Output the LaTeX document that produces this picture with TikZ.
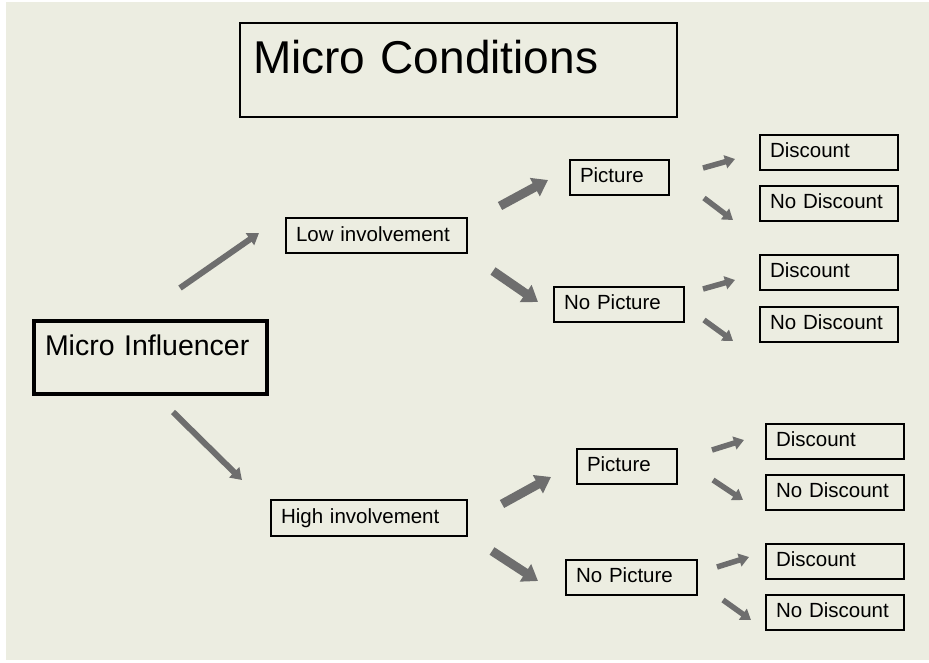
\documentclass[tikz,border=0pt]{standalone}
\usepackage{fontspec}
\setmainfont{Liberation Sans}
\usetikzlibrary{arrows.meta}
\definecolor{paper}{HTML}{ECEDE1}
\definecolor{arrowgray}{HTML}{6E6E6E}
\tikzset{
  box/.style={draw, line width=2pt, anchor=north west, inner xsep=10pt, inner ysep=0pt,
    text height=22pt, text depth=13pt, align=left, font=\fontsize{20.5}{24}\selectfont},
  bigarrow/.style={arrowgray, line width=9pt, -{Triangle[length=15pt,width=20pt]}},
  midarrow/.style={arrowgray, line width=6pt, -{Triangle[length=11pt,width=14pt]}},
  smallarrow/.style={arrowgray, line width=5.5pt, -{Triangle[length=10pt,width=13pt]}},
}
\begin{document}
\begin{tikzpicture}[x=1pt, y=-1pt]
    \useasboundingbox (0,0) rectangle (929,662);
    \fill[paper] (6,2) rectangle (929,660);
    % titles
    \node[box, inner xsep=13pt, text width=411pt, text height=50pt, text depth=44pt,
        font=\fontsize{46}{50}\selectfont] (title) at (239,22) {Micro Conditions};
    \node[box, line width=4pt, inner xsep=11pt, text width=211pt, text height=34pt, text depth=39pt,
        font=\fontsize{28.5}{32}\selectfont] (infl) at (32,319) {Micro Influencer};
    % involvement
    \node[box, text width=161pt, text height=23pt, text depth=12pt] (low) at (285,217) {Low involvement};
    \node[box, text width=176pt, text height=23pt] (high) at (270,499) {High involvement};
    % pictures
    \node[box, text width=79pt] (picA) at (569,159) {Picture};
    \node[box, text width=110pt] (nopicA) at (553,286) {No Picture};
    \node[box, text width=80pt] (picB) at (576,448) {Picture};
    \node[box, text width=111pt] (nopicB) at (565,559) {No Picture};
    % discounts
    \node[box, text width=118pt] (discA) at (759,134) {Discount};
    \node[box, text width=118pt] (nodiscA) at (759,185) {No Discount};
    \node[box, text width=118pt] (discB) at (759,254) {Discount};
    \node[box, text width=118pt] (nodiscB) at (759,306) {No Discount};
    \node[box, text width=118pt] (discC) at (765,423) {Discount};
    \node[box, text width=118pt] (nodiscC) at (765,474) {No Discount};
    \node[box, text width=118pt] (discD) at (765,543) {Discount};
    \node[box, text width=118pt] (nodiscD) at (765,594) {No Discount};
    % arrow ends
    \coordinate (infl-low-s) at (180,288);  \coordinate (infl-low-e) at (259,233);
    \coordinate (infl-high-s) at (173,412); \coordinate (infl-high-e) at (242,480);
    \coordinate (low-pic-s) at (500,206);   \coordinate (low-pic-e) at (548,180);
    \coordinate (low-nopic-s) at (493,271); \coordinate (low-nopic-e) at (538,302);
    \coordinate (high-pic-s) at (502,504);  \coordinate (high-pic-e) at (551,477);
    \coordinate (high-nopic-s) at (492,551); \coordinate (high-nopic-e) at (538,581);
    \coordinate (picA-d-s) at (703,168);    \coordinate (picA-d-e) at (735,159);
    \coordinate (picA-n-s) at (704,198);    \coordinate (picA-n-e) at (733,220);
    \coordinate (nopicA-d-s) at (703,289);  \coordinate (nopicA-d-e) at (735,280);
    \coordinate (nopicA-n-s) at (704,320);  \coordinate (nopicA-n-e) at (733,341);
    \coordinate (picB-d-s) at (712,450);    \coordinate (picB-d-e) at (744,440);
    \coordinate (picB-n-s) at (713,480);    \coordinate (picB-n-e) at (743,500);
    \coordinate (nopicB-d-s) at (717,567);  \coordinate (nopicB-d-e) at (749,557);
    \coordinate (nopicB-n-s) at (723,600);  \coordinate (nopicB-n-e) at (751,620);
    % arrows
    \draw[midarrow] (infl-low-s) -- (infl-low-e);
    \draw[midarrow] (infl-high-s) -- (infl-high-e);
    \foreach \a in {low-pic, low-nopic, high-pic, high-nopic}
        \draw[bigarrow] (\a-s) -- (\a-e);
    \foreach \a in {picA-d, picA-n, nopicA-d, nopicA-n, picB-d, picB-n, nopicB-d, nopicB-n}
        \draw[smallarrow] (\a-s) -- (\a-e);
\end{tikzpicture}
\end{document}
